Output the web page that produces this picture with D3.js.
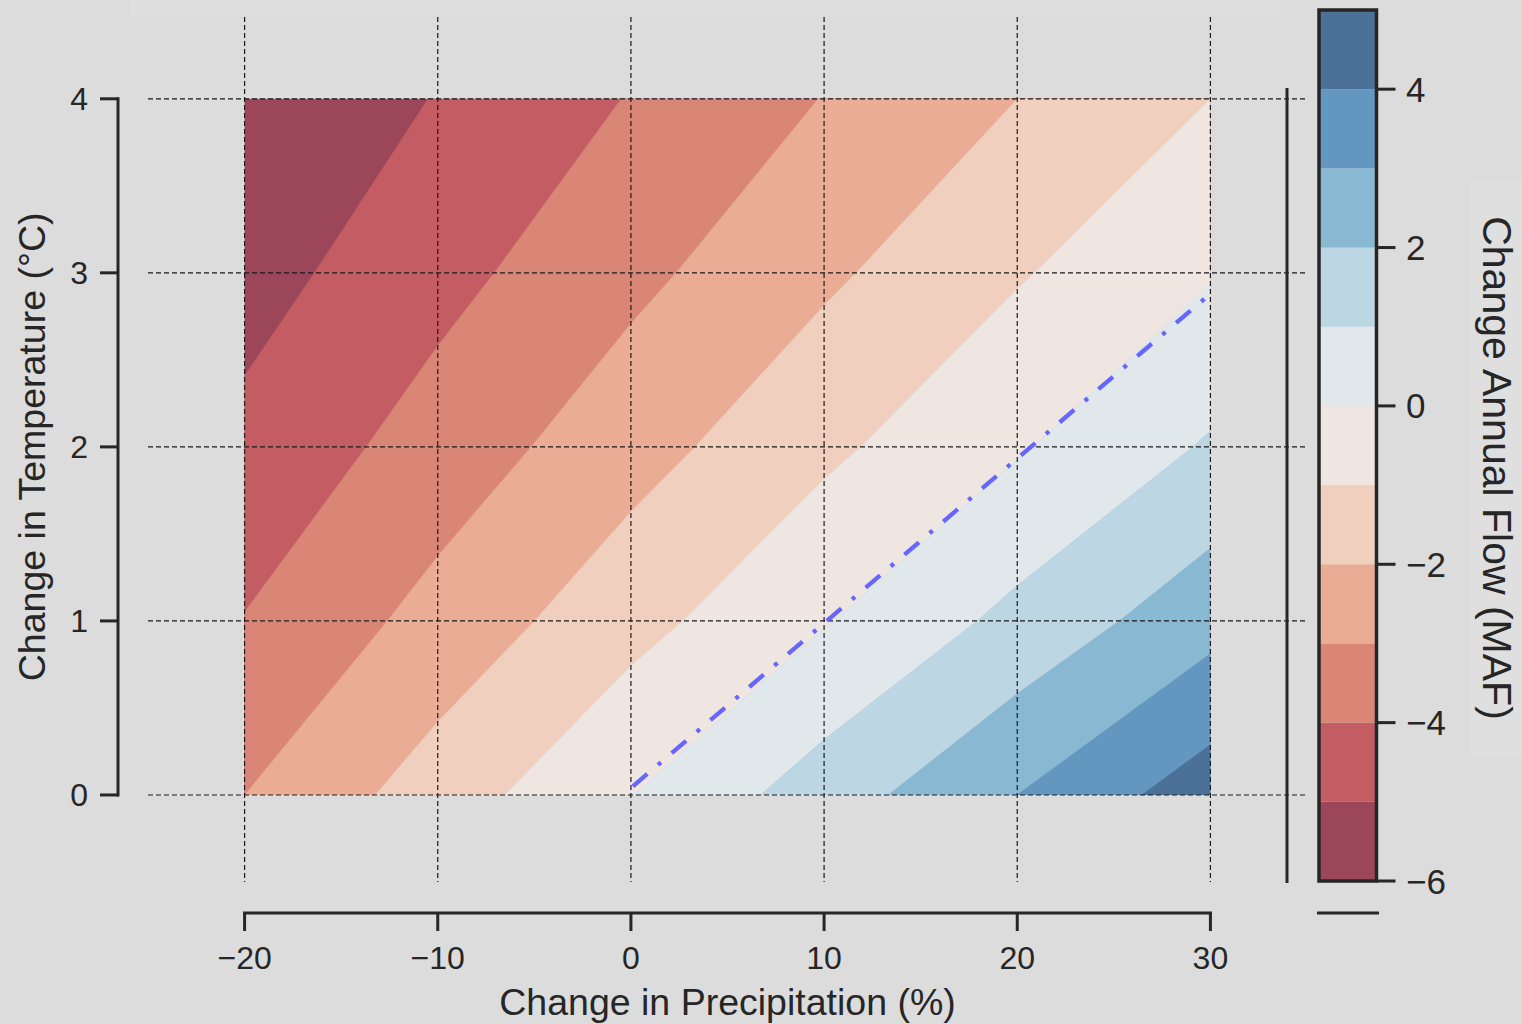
<!DOCTYPE html>
<html>
<head>
<meta charset="utf-8">
<script src="https://cdn.jsdelivr.net/npm/d3@7"></script>
<style>
  html, body { margin: 0; padding: 0; background: #dcdcdc; }
  svg { display: block; }
  text { font-family: "Liberation Sans", Arial, Helvetica, sans-serif; fill: #262626; }
</style>
</head>
<body>
<svg id="chart" width="1522" height="1024"></svg>
<script>
// ---------------- data ----------------
const precip = [-20, -10, 0, 10, 20, 30];          // x grid (%)
const temp = [0, 1, 2, 3, 4];                       // y grid (°C)
// change in annual flow (MAF), one row per temperature step
const flowT0 = [-3.00, -1.52, -0.02, 1.50, 3.00, 4.55];
const flowT1 = [-3.96, -2.66, -1.34, -0.07, 1.28, 2.64];
const flowT2 = [-4.73, -3.57, -2.39, -1.21, -0.10, 1.11];
const flowT3 = [-5.39, -4.31, -3.25, -2.18, -1.09, -0.08];
const flowT4 = [-5.94, -4.95, -3.95, -2.97, -2.00, -1.00];
const levels = [-6, -5, -4, -3, -2, -1, 0, 1, 2, 3, 4, 5];
const bandColors = ["#9c4659", "#c45d63", "#d98677", "#eaac94", "#f1cfbf",
                    "#efe6e2", "#e0e8ec", "#bdd6e3", "#89b8d3", "#6497c0", "#4b7199"];
const xTicks = [-20, -10, 0, 10, 20, 30];
const yTicks = [0, 1, 2, 3, 4];
const cbTicks = [-6, -4, -2, 0, 2, 4];
const zeroLineP = [0.1, 30];
const zeroLineT = [0.05, 2.88];

// ---------------- setup ----------------
const svg = d3.select("#chart");
const ink = "#262626";
svg.append("rect").attr("width", 1522).attr("height", 1024).attr("fill", "#dcdcdc");
// subtle lighter bands (bbox artifacts of the original)
svg.append("rect").attr("x", 130).attr("y", 0).attr("width", 1150).attr("height", 16).attr("fill", "#dfdfdf");
svg.append("rect").attr("x", 1470).attr("y", 181).attr("width", 52).attr("height", 576).attr("fill", "#dfdfdf");

const x = d3.scaleLinear().domain([-25, 35]).range([148, 1307]);
const y = d3.scaleLinear().domain([-0.5, 4.47]).range([882, 17]);

// ---------------- contours ----------------
const rows = [flowT0, flowT1, flowT2, flowT3, flowT4];
const values = rows.flat();
const nx = precip.length, ny = temp.length;
const dP = precip[1] - precip[0], dT = temp[1] - temp[0];
const contours = d3.contours().size([nx, ny]).thresholds(levels.slice(0, -1))(values);

const proj = d3.geoTransform({
  point: function (gx, gy) {
    const P = precip[0] + (gx - 0.5) * dP;
    const T = temp[0] + (gy - 0.5) * dT;
    this.stream.point(x(P), y(T));
  }
});
const path = d3.geoPath(proj);

svg.append("clipPath").attr("id", "plotclip")
  .append("rect")
  .attr("x", x(precip[0])).attr("y", y(temp[temp.length - 1]))
  .attr("width", x(precip[nx - 1]) - x(precip[0]))
  .attr("height", y(temp[0]) - y(temp[temp.length - 1]));

svg.append("g").attr("clip-path", "url(#plotclip)")
  .selectAll("path").data(contours).join("path")
  .attr("d", path)
  .attr("fill", (d, i) => bandColors[i])
  .attr("stroke", (d, i) => d3.color(bandColors[i]).darker(0.15))
  .attr("stroke-width", 0.6);

// ---------------- grid ----------------
const grid = svg.append("g").attr("stroke", "#1a1a1a").attr("stroke-width", 1.2)
  .attr("stroke-dasharray", "5,3");
grid.selectAll("line.v").data(xTicks).join("line").attr("class", "v")
  .attr("x1", d => x(d)).attr("x2", d => x(d))
  .attr("y1", y(4.47)).attr("y2", y(-0.5));
grid.selectAll("line.h").data(yTicks).join("line").attr("class", "h")
  .attr("y1", d => y(d)).attr("y2", d => y(d))
  .attr("x1", x(-25)).attr("x2", x(35));

// ---------------- zero line ----------------
svg.append("path")
  .datum(zeroLineP.map((p, i) => [p, zeroLineT[i]]))
  .attr("d", d3.line().x(d => x(d[0])).y(d => y(d[1])))
  .attr("fill", "none").attr("stroke", "#6666ff").attr("stroke-width", 4.3)
  .attr("stroke-dasharray", "19,14,4,14");

// ---------------- axes ----------------
// left (offset) spine
const yAxisX = 118;
svg.append("line").attr("x1", yAxisX).attr("x2", yAxisX)
  .attr("y1", y(yTicks[0]) + 1.5).attr("y2", y(yTicks[yTicks.length - 1]) - 1.5)
  .attr("stroke", ink).attr("stroke-width", 3);
svg.selectAll("line.yt").data(yTicks).join("line").attr("class", "yt")
  .attr("x1", yAxisX - 18).attr("x2", yAxisX)
  .attr("y1", d => y(d)).attr("y2", d => y(d))
  .attr("stroke", ink).attr("stroke-width", 3);
svg.selectAll("text.yt").data(yTicks).join("text").attr("class", "yt")
  .attr("x", 88).attr("y", d => y(d) + 11.5)
  .attr("text-anchor", "end").attr("font-size", 32)
  .text(d => d3.format("d")(d));
svg.append("text")
  .attr("transform", `translate(45,${(y(0) + y(4)) / 2}) rotate(-90)`)
  .attr("text-anchor", "middle").attr("font-size", 37.5)
  .text("Change in Temperature (°C)");

// bottom (offset) spine
const xAxisY = 913;
svg.append("line").attr("y1", xAxisY).attr("y2", xAxisY)
  .attr("x1", x(xTicks[0]) - 1.5).attr("x2", x(xTicks[xTicks.length - 1]) + 1.5)
  .attr("stroke", ink).attr("stroke-width", 3);
svg.selectAll("line.xt").data(xTicks).join("line").attr("class", "xt")
  .attr("y1", xAxisY).attr("y2", xAxisY + 18)
  .attr("x1", d => x(d)).attr("x2", d => x(d))
  .attr("stroke", ink).attr("stroke-width", 3);
svg.selectAll("text.xt").data(xTicks).join("text").attr("class", "xt")
  .attr("x", d => x(d)).attr("y", 969)
  .attr("text-anchor", "middle").attr("font-size", 32)
  .text(d => d3.format("d")(d));
svg.append("text")
  .attr("x", (x(-20) + x(30)) / 2).attr("y", 1015)
  .attr("text-anchor", "middle").attr("font-size", 37.5)
  .text("Change in Precipitation (%)");

// ---------------- colorbar ----------------
const cb = d3.scaleLinear().domain([levels[0], levels[levels.length - 1]]).range([881, 10]);
const cbX = 1319, cbW = 57.5;
svg.append("line").attr("x1", 1287).attr("x2", 1287).attr("y1", 88).attr("y2", 883)
  .attr("stroke", ink).attr("stroke-width", 3);
svg.append("line").attr("x1", 1317).attr("x2", 1379).attr("y1", 913).attr("y2", 913)
  .attr("stroke", ink).attr("stroke-width", 3);
svg.selectAll("rect.cb").data(bandColors).join("rect").attr("class", "cb")
  .attr("x", cbX).attr("width", cbW)
  .attr("y", (d, i) => cb(levels[i + 1]))
  .attr("height", (d, i) => cb(levels[i]) - cb(levels[i + 1]))
  .attr("fill", d => d);
svg.append("rect").attr("x", cbX).attr("y", cb(5)).attr("width", cbW)
  .attr("height", cb(-6) - cb(5)).attr("fill", "none")
  .attr("stroke", ink).attr("stroke-width", 3.5);
svg.selectAll("line.ct").data(cbTicks).join("line").attr("class", "ct")
  .attr("x1", cbX + cbW).attr("x2", cbX + cbW + 19)
  .attr("y1", d => cb(d)).attr("y2", d => cb(d))
  .attr("stroke", ink).attr("stroke-width", 3);
svg.selectAll("text.ct").data(cbTicks).join("text").attr("class", "ct")
  .attr("x", 1406).attr("y", d => cb(d) + 12.5)
  .attr("font-size", 35)
  .text(d => d3.format("d")(d));
svg.append("text")
  .attr("transform", `translate(1483,468) rotate(90)`)
  .attr("text-anchor", "middle").attr("font-size", 41)
  .text("Change Annual Flow (MAF)");
</script>
</body>
</html>
